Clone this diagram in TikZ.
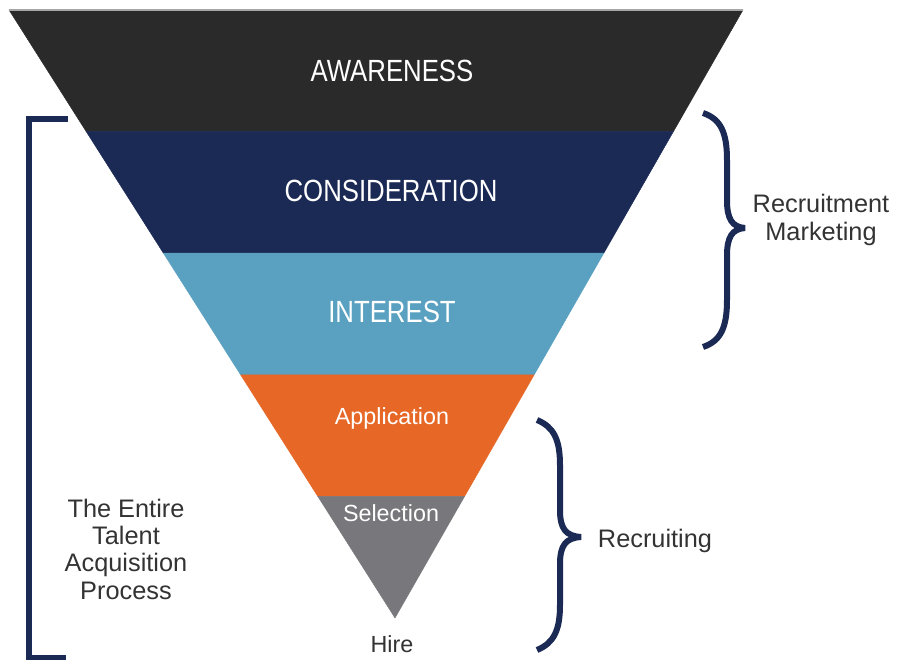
\documentclass[tikz,border=0pt]{standalone}
\usepackage{fontspec}
\setmainfont{Liberation Sans}
\newfontfamily\stagefont{Liberation Sans}[FakeStretch=0.84]
\usetikzlibrary{calc}

\definecolor{awareness}{HTML}{2A2A2A}
\definecolor{consideration}{HTML}{1B2A55}
\definecolor{interest}{HTML}{5AA1C1}
\definecolor{application}{HTML}{E66726}
\definecolor{selection}{HTML}{78787C}
\definecolor{bracecol}{HTML}{1B2A55}
\definecolor{labeltext}{HTML}{333333}

\tikzset{
  stage/.style={text=white, anchor=base, font=\stagefont\fontsize{23}{28}\selectfont},
  smallstage/.style={text=white, anchor=base, font=\fontsize{17.5}{21}\selectfont},
  sidelabel/.style={text=labeltext, align=center, font=\fontsize{19}{20.5}\selectfont},
  brace/.style={draw=bracecol, line width=4.5pt, line join=bevel},
  bracket/.style={draw=bracecol, line width=4.5pt},
}

\begin{document}
\begin{tikzpicture}[x=0.75pt,y=-0.75pt]
    \useasboundingbox (0,0) rectangle (908,660);
    \coordinate (tl) at (9,10);
    \coordinate (tr) at (743,10);
    \coordinate (apex) at (395,618);
    % funnel bands, top to bottom
    \foreach \band [count=\i from 0] in {awareness,consideration,interest,application,selection} {
        \pgfmathsetmacro\a{\i/5}
        \pgfmathsetmacro\b{(\i+1)/5}
        \filldraw[fill=\band, draw=\band, line width=0.3pt] ($(tl)!\a!(apex)$) -- ($(tr)!\a!(apex)$) -- ($(tr)!\b!(apex)$) -- ($(tl)!\b!(apex)$) -- cycle;
    }
    \draw[gray!70, line width=0.8pt] (tl) -- (tr);

    \node[stage] (aw) at (392,82) {AWARENESS};
    \node[stage] (co) at (391,201) {CONSIDERATION};
    \node[stage] (in) at (392,322) {INTEREST};
    \node[smallstage] (ap) at (392,424) {Application};
    \node[smallstage] (se) at (391,521) {Selection};
    \node[smallstage, text=labeltext] (hi) at (392,652) {Hire};

    % braces on the right
    \coordinate (mkt top) at (703,113);
    \coordinate (mkt tip) at (745,228);
    \coordinate (mkt bot) at (703,347);
    \draw[brace] (mkt top) .. controls (721,119) and (727,133) .. (727,160) -- (727,200)
        .. controls (727,219) and (732,227) .. (mkt tip)
        .. controls (732,229) and (727,237) .. (727,256) -- (727,300)
        .. controls (727,327) and (721,341) .. (mkt bot);
    \coordinate (rec top) at (537,420);
    \coordinate (rec tip) at (581,537);
    \coordinate (rec bot) at (537,650);
    \draw[brace] (rec top) .. controls (554,427) and (560,440) .. (560,465) -- (560,510)
        .. controls (560,529) and (566,536) .. (rec tip)
        .. controls (566,538) and (560,545) .. (560,564) -- (560,605)
        .. controls (560,630) and (554,643) .. (rec bot);
    \node[sidelabel, font=\fontsize{19}{21}\selectfont] (mkt) at (821,220) {Recruitment\\Marketing};
    \node[sidelabel, anchor=base] (rec) at (655,547) {Recruiting};

    % bracket on the left
    \draw[bracket] (68,119) -- (29,119) -- (29,658) -- (66,658);
    \node[sidelabel] (tap) at (126,549) {The Entire\\Talent\\Acquisition\\Process};
\end{tikzpicture}
\end{document}
